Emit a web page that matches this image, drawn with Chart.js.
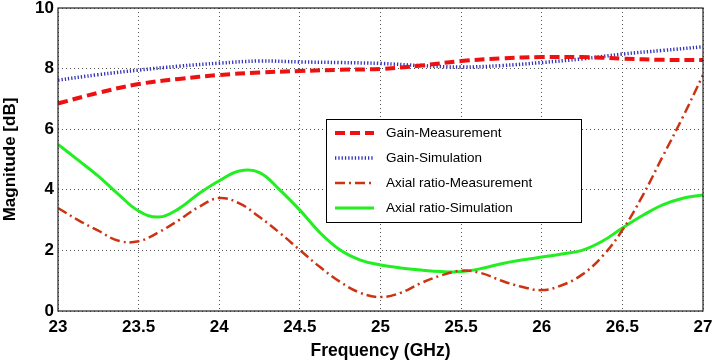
<!DOCTYPE html>
<html>
<head>
<meta charset="utf-8">
<script src="https://cdn.jsdelivr.net/npm/chart.js@4.4.0/dist/chart.umd.min.js"></script>
<style>
  html, body { margin: 0; padding: 0; background: #fff; }
  #wrap { width: 713px; height: 362px; }
</style>
</head>
<body>
<div id="wrap"><canvas id="chart" width="713" height="362"></canvas></div>
<script>
// values
const gainFreq = [23, 23.25, 23.5, 23.75, 24, 24.25, 24.5, 24.75, 25, 25.25, 25.5, 25.75, 26, 26.25, 26.5, 26.75, 27];
const gainMeas = [6.85, 7.2, 7.49, 7.66, 7.79, 7.87, 7.92, 7.96, 7.99, 8.1, 8.25, 8.34, 8.38, 8.38, 8.33, 8.29, 8.28];
const gainSim = [7.62, 7.8, 7.95, 8.08, 8.18, 8.25, 8.22, 8.2, 8.17, 8.1, 8.05, 8.1, 8.2, 8.32, 8.48, 8.6, 8.72];

const arFreq = [23, 23.125, 23.25, 23.375, 23.5, 23.625, 23.75, 23.875, 24, 24.125, 24.25, 24.375, 24.5, 24.625, 24.75, 24.875,
                25, 25.125, 25.25, 25.375, 25.5, 25.625, 25.75, 25.875, 26, 26.125, 26.25, 26.375, 26.5, 26.625, 26.75, 26.875, 27];
const arMeas = [3.4, 3.0, 2.65, 2.32, 2.3, 2.6, 3.0, 3.44, 3.73, 3.55, 3.1, 2.58, 2.01, 1.45, 0.96, 0.6,
                0.46, 0.6, 0.92, 1.17, 1.33, 1.25, 1.0, 0.8, 0.69, 0.85, 1.2, 1.8, 2.67, 3.8, 5.1, 6.4, 7.79];
const arSim = [5.5, 4.98, 4.45, 3.85, 3.3, 3.1, 3.38, 3.88, 4.3, 4.62, 4.57, 4.0, 3.33, 2.58, 2.01, 1.68,
               1.52, 1.42, 1.35, 1.3, 1.3, 1.4, 1.56, 1.68, 1.78, 1.88, 2.0, 2.3, 2.74, 3.15, 3.5, 3.72, 3.83];

const xTicks = [23, 23.5, 24, 24.5, 25, 25.5, 26, 26.5, 27];
const yTicks = [0, 2, 4, 6, 8, 10];

const toPts = (xs, ys) => xs.map((x, i) => ({ x: x, y: ys[i] }));
const FONT = '"Liberation Sans", Arial, sans-serif';

// boxed legend inside the plot, MATLAB style
const boxLegend = {
  id: 'boxLegend',
  afterDatasetsDraw(chart) {
    const ctx = chart.ctx;
    const x0 = 326, y0 = 119, w = 255, h = 103;
    ctx.save();
    ctx.fillStyle = '#fff';
    ctx.fillRect(x0, y0, w, h);
    ctx.strokeStyle = '#000';
    ctx.lineWidth = 1;
    ctx.strokeRect(x0 + 0.5, y0 + 0.5, w, h);
    ctx.font = '13.5px ' + FONT;
    ctx.textBaseline = 'middle';
    chart.data.datasets.forEach((ds, i) => {
      const ly = y0 + 14 + i * 25;
      ctx.strokeStyle = ds.borderColor;
      ctx.lineWidth = ds.borderWidth;
      ctx.setLineDash(ds.borderDash || []);
      ctx.beginPath();
      ctx.moveTo(x0 + 9, ly);
      ctx.lineTo(x0 + 48, ly);
      ctx.stroke();
      ctx.setLineDash([]);
      ctx.fillStyle = '#000';
      ctx.fillText(ds.label, x0 + 60, ly);
    });
    ctx.restore();
  }
};

// black box round the plot area
const frame = {
  id: 'frame',
  afterDraw(chart) {
    const a = chart.chartArea, ctx = chart.ctx;
    ctx.save();
    ctx.strokeStyle = '#222';
    ctx.lineWidth = 1.2;
    ctx.strokeRect(a.left, a.top, a.right - a.left, a.bottom - a.top);
    ctx.restore();
  }
};

new Chart(document.getElementById('chart'), {
  type: 'line',
  data: {
    datasets: [
      {
        label: 'Gain-Measurement',
        data: toPts(gainFreq, gainMeas),
        borderColor: '#ee1111',
        borderWidth: 4,
        borderDash: [10, 5]
      },
      {
        label: 'Gain-Simulation',
        data: toPts(gainFreq, gainSim),
        borderColor: '#3333bb',
        borderWidth: 3.5,
        borderDash: [1.3, 2]
      },
      {
        label: 'Axial ratio-Measurement',
        data: toPts(arFreq, arMeas),
        borderColor: '#cc3311',
        borderWidth: 2.5,
        borderDash: [10, 4, 2, 4]
      },
      {
        label: 'Axial ratio-Simulation',
        data: toPts(arFreq, arSim),
        borderColor: '#22ee22',
        borderWidth: 3
      }
    ]
  },
  options: {
    responsive: false,
    animation: false,
    layout: { padding: { top: 8, right: 10, left: 0, bottom: 0 } },
    elements: {
      point: { radius: 0 },
      line: { tension: 0.4, fill: false }
    },
    plugins: {
      legend: { display: false },
      tooltip: { enabled: false }
    },
    scales: {
      x: {
        type: 'linear',
        min: 23,
        max: 27,
        afterBuildTicks: s => { s.ticks = xTicks.map(v => ({ value: v })); },
        afterFit: s => { s.height = 51; s.paddingLeft = 0; s.paddingRight = 0; },
        grid: { color: '#555', drawTicks: false },
        border: { display: false, dash: [1, 3] },
        ticks: {
          color: '#000',
          padding: 6,
          maxRotation: 0,
          callback: v => String(v),
          font: { family: FONT, size: 17, weight: 'bold' }
        },
        title: {
          display: true,
          text: 'Frequency (GHz)',
          color: '#000',
          padding: { top: 0, bottom: 0 },
          font: { family: FONT, size: 17.5, weight: 'bold' }
        }
      },
      y: {
        min: 0,
        max: 10,
        afterBuildTicks: s => { s.ticks = yTicks.map(v => ({ value: v })); },
        afterFit: s => { s.width = 58; s.paddingTop = 0; s.paddingBottom = 0; },
        grid: { color: '#555', drawTicks: false },
        border: { display: false, dash: [1, 3] },
        ticks: {
          color: '#000',
          padding: 4,
          callback: v => String(v),
          font: { family: FONT, size: 17, weight: 'bold' }
        },
        title: {
          display: true,
          text: 'Magnitude [dB]',
          color: '#000',
          padding: { top: 0, bottom: 2 },
          font: { family: FONT, size: 17, weight: 'bold' }
        }
      }
    }
  },
  plugins: [boxLegend, frame]
});
</script>
</body>
</html>
